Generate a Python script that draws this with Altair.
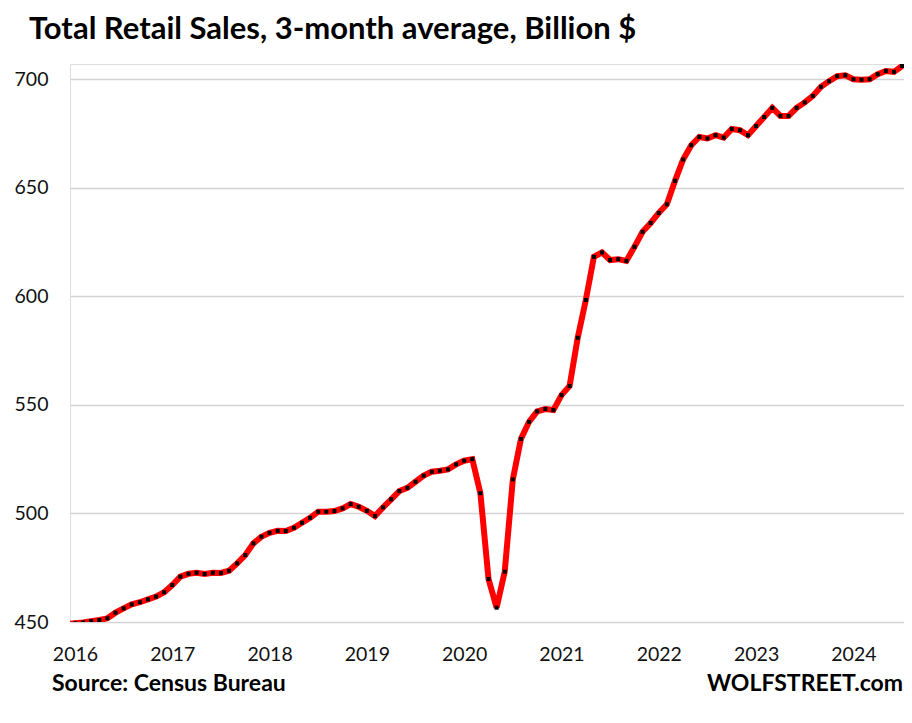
import altair as alt
import pandas as pd

# monthly values starting Dec 2015
start_t = 2015 + 11 / 12
values = [
    449.0,                                                                                # Dec 2015
    449.4, 449.8, 450.4, 450.9, 451.7, 454.3, 456.3, 458.1, 459.1, 460.4, 461.7, 463.7,  # 2016
    467.0, 470.9, 472.2, 472.7, 472.1, 472.7, 472.6, 473.6, 477.0, 480.8, 486.2, 489.3,  # 2017
    491.1, 492.0, 491.9, 493.4, 495.7, 498.0, 500.8, 500.8, 501.1, 502.3, 504.3, 503.1,  # 2018
    501.2, 498.8, 502.8, 506.5, 510.3, 511.8, 514.6, 517.4, 519.2, 519.7, 520.3, 522.6,  # 2019
    524.3, 525.0, 509.3, 469.8, 456.6, 473.2, 515.7, 534.3, 542.2, 547.0, 548.1, 547.6,  # 2020
    554.5, 558.7, 580.9, 598.3, 618.2, 620.2, 616.7, 617.1, 616.3, 622.8, 629.7, 633.8,  # 2021
    638.4, 642.4, 653.2, 663.0, 669.6, 673.4, 672.7, 674.2, 673.1, 677.1, 676.5, 674.2,  # 2022
    678.4, 682.6, 686.8, 683.1, 683.1, 686.8, 689.3, 692.3, 696.5, 699.1, 701.4, 701.8,  # 2023
    700.0, 699.8, 700.0, 702.3, 703.8, 703.4, 706.1,                                      # 2024
]
year_ticks = [2016, 2017, 2018, 2019, 2020, 2021, 2022, 2023, 2024]
y_ticks = [450, 500, 550, 600, 650, 700]
title_text = "Total Retail Sales, 3-month average, Billion $"
source_text = "Source: Census Bureau"
brand_text = "WOLFSTREET.com"

df = pd.DataFrame({
    "t": [start_t + i / 12 for i in range(len(values))],
    "v": values,
})

W, H = 834, 558
FONT = "Lato"

x = alt.X("t:Q", scale=alt.Scale(domain=[2015.949, 2024.52], nice=False, zero=False),
          axis=alt.Axis(values=year_ticks, format="d", title=None, grid=False, ticks=False,
                        domain=False, labelFont=FONT, labelFontSize=19.5, labelColor="#111",
                        labelPadding=23))
y = alt.Y("v:Q", scale=alt.Scale(domain=[450, 707], nice=False, zero=False),
          axis=alt.Axis(values=y_ticks, title=None, ticks=False, domain=False,
                        gridColor="#d4d4d4", gridWidth=1.6, labelFont=FONT,
                        labelFontSize=19.5, labelColor="#111", labelPadding=22))

base = alt.Chart(df)
line = base.mark_line(color="#ff0000", strokeWidth=6, clip=True).encode(x=x, y=y)
dots = base.mark_square(color="#000000", size=16, opacity=1, clip=True).encode(x="t:Q", y="v:Q")

def label(txt, xpos, ypos, align, size):
    return alt.Chart(pd.DataFrame({"txt": [txt]})).mark_text(
        align=align, baseline="alphabetic", font=FONT, fontSize=size, fontWeight="bold", color="#000"
    ).encode(x=alt.value(xpos), y=alt.value(ypos), text="txt:N")

title = label(title_text, -41, -25, "left", 31)
foot = label(source_text, -18, 627, "left", 23)
brand = label(brand_text, 833, 627, "right", 23)

chart = alt.layer(line, dots, title, foot, brand).properties(
    width=W, height=H,
    autosize=alt.AutoSizeParams(type="none"),
    padding={"left": 62, "top": 56, "right": 0, "bottom": 90},
).configure_view(stroke=None).configure(background="white")

chart.save("out.html", embed_options={"renderer": "svg", "actions": False})
